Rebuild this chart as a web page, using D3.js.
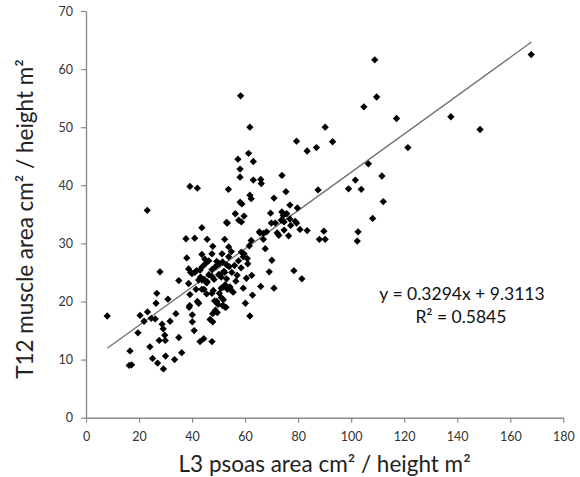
<!DOCTYPE html>
<html>
<head>
<meta charset="utf-8">
<script src="https://cdn.jsdelivr.net/npm/d3@7/dist/d3.min.js"></script>
<style>
  html, body { margin: 0; padding: 0; background: #fff; }
  svg { display: block; }
</style>
</head>
<body>
<svg id="chart" width="580" height="477"></svg>
<script>
// ---- data ----
const psoasArea = [
  8.0,20.4,21.9,23.2,24.6,26.1,19.6,26.4,26.7,27.9,30.9,28.7,29.1,29.7,29.9,27.6,31.7,33.9,35.0,24.1,16.6,16.3,17.2,25.1,27.0,29.2,30.0,33.4,36.1,
  35.0,38.7,39.2,39.1,38.9,40.1,40.1,40.8,42.0,42.5,43.0,44.4,47.5,46.8,47.8,
  43.7,43.7,45.7,48.0,51.0,51.8,53.3,54.8,55.5,54.3,59.3,62.8,60.1,61.8,65.9,70.9,
  42.5,43.2,44.5,45.5,46.3,47.5,48.3,50.0,51.0,52.3,53.0,52.5,54.0,41.5,44.5,45.5,47.5,
  50.3,51.0,51.8,49.3,49.8,51.5,52.8,48.8,49.5,47.8,52.3,48.5,
  23.1,39.2,42.0,53.7,37.7,41.0,43.7,45.7,47.8,53.0,52.3,53.8,38.0,43.7,47.5,51.3,44.8,46.3,49.3,53.8,
  38.7,40.0,41.0,41.7,43.0,43.7,45.0,47.5,48.8,50.2,51.5,53.0,52.0,50.5,54.0,39.5,
  54.8,58.6,59.6,59.3,60.8,57.5,56.0,55.0,57.0,58.5,61.0,62.5,60.5,56.5,
  58.3,61.8,61.3,57.3,63.1,58.1,58.1,63.1,65.9,66.1,73.9,61.8,62.3,58.1,58.8,70.9,75.4,
  56.3,59.6,57.6,58.6,53.3,69.6,76.9,79.7,73.9,74.4,75.7,69.9,71.4,73.6,74.7,76.9,78.9,77.2,79.4,
  80.7,83.4,89.7,88.0,90.2,65.6,66.9,68.1,72.1,72.7,74.7,76.4,67.6,61.6,62.3,66.9,70.1,69.1,78.4,81.4,65.4,
  104.8,90.2,79.4,93.0,83.4,86.9,87.5,99.0,101.6,103.8,106.5,167.9,108.9,109.6,117.1,137.6,148.6,121.4,111.6,112.1,108.1,102.6,102.3
];
const t12Area = [
  17.5,17.6,16.6,18.2,17.1,17.0,14.6,19.7,21.4,25.1,20.4,16.1,15.3,14.2,13.3,13.3,16.6,17.9,13.8,12.2,11.5,9.0,9.1,10.2,9.4,8.4,10.6,10.0,11.2,
  23.6,23.1,21.2,19.3,19.0,17.7,16.5,15.0,20.0,19.7,13.1,13.6,13.1,16.9,16.5,
  22.1,23.7,23.4,21.9,22.3,22.5,22.1,21.9,21.6,22.5,22.3,21.1,19.7,17.5,22.6,22.3,
  23.7,24.2,23.8,23.2,24.6,24.3,23.8,24.6,24.2,25.0,23.9,22.9,22.2,22.1,22.1,21.3,21.4,
  21.4,20.7,20.3,20.0,19.5,19.3,19.0,18.5,18.1,17.9,19.1,20.1,
  35.7,39.8,39.5,39.3,30.8,30.9,32.7,30.7,29.5,33.6,30.7,29.4,27.5,28.1,28.2,28.2,27.3,27.0,26.9,27.7,
  25.6,24.8,25.0,25.3,25.4,25.9,26.5,25.5,26.0,26.5,26.8,26.3,25.2,24.6,26.0,25.0,
  28.6,28.5,28.2,27.7,27.4,27.0,26.2,25.0,24.5,25.8,26.5,24.5,24.0,23.5,
  55.4,50.0,45.5,44.5,44.1,42.8,41.4,40.9,41.0,40.3,41.7,38.3,37.7,37.1,36.8,37.8,38.9,
  35.1,34.7,34.0,33.7,33.5,35.2,36.6,36.1,35.4,34.8,35.1,33.5,33.5,34.0,33.7,34.2,33.8,33.1,33.5,
  32.4,32.2,32.1,30.7,30.7,31.8,31.7,32.0,31.8,31.4,32.3,31.3,29.1,29.6,30.5,30.7,27.1,25.1,25.3,23.9,32.0,
  53.5,50.0,47.6,47.5,45.9,46.5,39.2,39.4,40.9,39.3,43.7,62.5,61.6,55.2,51.5,51.8,49.6,46.5,41.6,37.2,34.3,32.0,30.4
];
const xTicks = [0, 20, 40, 60, 80, 100, 120, 140, 160, 180];
const yTicks = [0, 10, 20, 30, 40, 50, 60, 70];
const trendSlope = 0.3294;
const trendIntercept = 9.3113;
const trendRange = [8, 168];
const equationLines = ["y = 0.3294x + 9.3113", "R\u00B2 = 0.5845"];
const xTitle = "L3 psoas area cm\u00B2 / height m\u00B2";
const yTitle = "T12 muscle area cm\u00B2 / height m\u00B2";

// ---- chart ----
(function () {
const svg = d3.select("#chart");
const font = "Lato, 'Open Sans', sans-serif";
const mLeft = 86, mRight = 563.3, mTop = 11, mBottom = 417.7;

const x = d3.scaleLinear().domain([0, 180]).range([mLeft, mRight]);
const y = d3.scaleLinear().domain([0, 70]).range([mBottom, mTop]);

const axisColor = "#8a8a8a";

const gx = svg.append("g")
  .attr("transform", `translate(0,${mBottom})`)
  .call(d3.axisBottom(x).tickValues(xTicks).tickSize(5).tickSizeOuter(0).tickPadding(9));
const gy = svg.append("g")
  .attr("transform", `translate(${mLeft},0)`)
  .call(d3.axisLeft(y).tickValues(yTicks).tickSize(5).tickSizeOuter(0).tickPadding(8));

[gx, gy].forEach(g => {
  g.select(".domain").attr("stroke", axisColor).attr("stroke-width", 1.4);
  g.selectAll(".tick line").attr("stroke", axisColor).attr("stroke-width", 1.2);
  g.selectAll(".tick text")
    .attr("fill", "#333")
    .style("font-family", font)
    .style("font-size", "12.5px");
});

// trend line
svg.append("line")
  .attr("x1", x(trendRange[0])).attr("y1", y(trendSlope * trendRange[0] + trendIntercept))
  .attr("x2", x(trendRange[1])).attr("y2", y(trendSlope * trendRange[1] + trendIntercept))
  .attr("stroke", "#707070").attr("stroke-width", 1.3);

// points
const pts = psoasArea.map((v, i) => ({ px: v, py: t12Area[i] }));
const diamond = d3.symbol().type(d3.symbolDiamond2).size(34);
svg.append("g").selectAll("path").data(pts).join("path")
  .attr("d", diamond)
  .attr("transform", d => `translate(${x(d.px)},${y(d.py)})`)
  .attr("fill", "#000");

// equation
svg.append("text")
  .attr("x", 462).attr("y", 300)
  .attr("text-anchor", "middle")
  .style("font-family", font).style("font-size", "17.5px")
  .attr("fill", "#111")
  .text(equationLines[0]);
svg.append("text")
  .attr("x", 461).attr("y", 323)
  .attr("text-anchor", "middle")
  .style("font-family", font).style("font-size", "17.5px")
  .attr("fill", "#111")
  .text(equationLines[1]);

// axis titles
svg.append("text")
  .attr("x", 324.6).attr("y", 472)
  .attr("text-anchor", "middle")
  .style("font-family", font).style("font-size", "22.5px")
  .attr("fill", "#222")
  .text(xTitle);
svg.append("text")
  .attr("transform", "translate(33,219) rotate(-90)")
  .attr("text-anchor", "middle")
  .style("font-family", font).style("font-size", "22.5px")
  .attr("fill", "#222")
  .text(yTitle);
})();
</script>
</body>
</html>
